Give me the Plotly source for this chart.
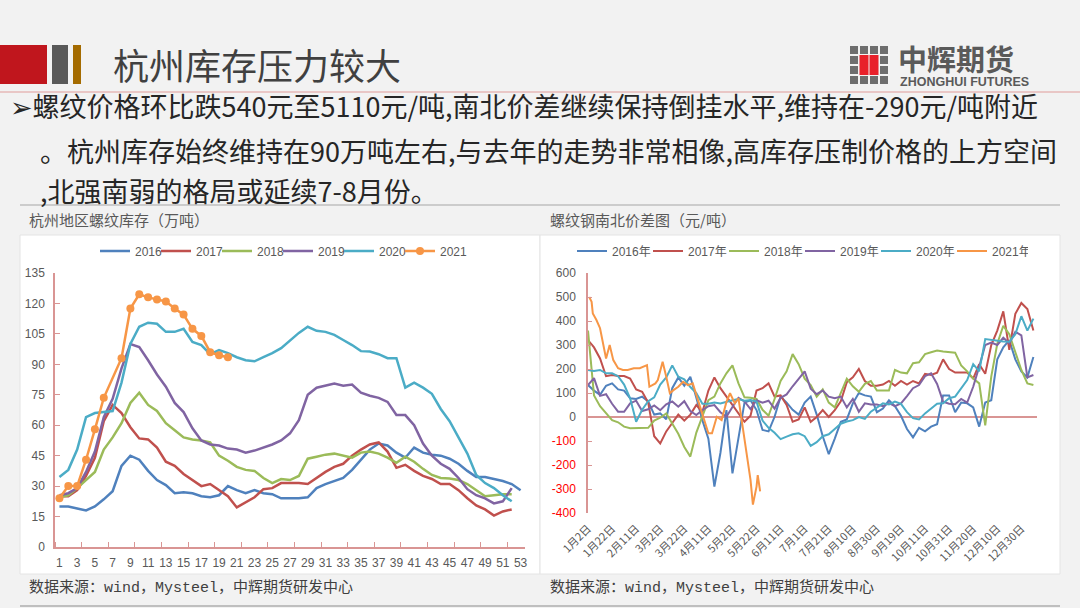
import plotly.graph_objects as go

W, H = 1080, 608
def fx(x): return x / W
def fy(y): return 1 - y / H

# ---------------- left chart data: Hangzhou rebar inventory (10k t) ----------------
WEEKS = list(range(1, 54))
INV_2016 = [20, 20, 19, 18, 20, 23.5, 27.5, 40, 45, 43, 37.5, 33, 30.5, 26.5, 27, 26.5, 25, 24.5, 25.5, 30,
            28, 26.5, 28, 26.5, 26, 24, 24, 24, 24.5, 29, 31, 32.5, 34, 38, 43, 48, 51, 50, 46.5, 44,
            49, 46.5, 45.5, 45, 43.5, 41, 37.5, 34.5, 34.5, 33.5, 32.5, 31, 28]
INV_2017 = [25, 25, 28, 35, 44, 62, 70, 66, 59, 53.5, 53, 49, 42, 40, 36, 33, 30, 31, 28, 25,
            19.5, 22, 24.5, 28.5, 29, 31.5, 31.5, 31.5, 31, 34, 37, 39.5, 41, 45, 48, 50.5, 51.5, 47, 39, 40.5,
            37.5, 35, 33.5, 31, 31, 28, 24, 20.5, 18.5, 15.5, 17.5, 18.5]
INV_2018 = [24.5, 25.5, 29, 33, 37, 48, 54, 61, 71, 76, 70, 67, 61, 57.5, 54, 53, 52.5, 51.5, 45, 42.5,
            39.5, 38, 37.5, 34, 31.5, 33.5, 33, 35, 43.5, 44.5, 45.5, 46, 45, 44, 46.5, 47, 46, 44, 41.5, 44.5,
            42, 38.5, 35.5, 34, 33.8, 33, 31, 28, 25, 25.5, 26, 26]
INV_2019 = [25.5, 26.5, 29, 37, 47, 64, 73, 88, 100, 98.5, 92, 85, 79, 71, 66.5, 58.5, 52.5, 50.5, 50, 48.5,
            48, 46.5, 47.5, 49, 50.5, 52.5, 56, 62.5, 75, 78.5, 79.5, 80.5, 79.5, 80, 76, 74.5, 73.5, 71.5, 65, 65,
            60, 51, 45, 41, 38.5, 34, 28.5, 25.5, 24, 21.5, 22.5, 29]
INV_2020 = [34.5, 38, 48, 64, 66, 66.5, 67, 81, 100, 108.5, 110.5, 110, 106, 106, 107.5, 101, 99.5, 95, 97, 95.5,
            93.5, 92, 91.5, 93.5, 95.5, 98, 102, 105.5, 108.5, 106.5, 106, 104.5, 102, 99.5, 96.5, 96.3, 95, 93, 93, 78.5,
            81, 78.5, 75.5, 68, 62, 54, 46, 35.5, 31.5, 29, 25.5, 22.5]
INV_2021 = [24, 30, 30, 43, 58, 73.5, None, 93, 117.5, 124.5, 123, 122, 121, 117.5, 114.5, 107.5, 104, 96, 94.5, 93.5]

# ---------------- right chart data: rebar south-north spread (yuan/t) ----------------
DAY_IDX = list(range(0, 371, 5))
SPREAD_2016 = [133, 110, 92, 130, 140, 115, 110, 78, 75, 85,
               65, 10, 15, -10, 120, 165, 130, 168, 80, -13,
               -90, -290, -150, 29, -235, -80, 60, 70, 29, -54,
               -60, 1, 85, 60, 30, 10, 60, 85, 10, -80,
               -155, -90, -20, -10, 57, 100, 90, 85, 20, 35,
               70, 45, 5, -50, -85, -45, -60, -40, -30, 90,
               90, 20, 60, 57, 40, -40, 60, 70, 240, 290,
               320, 240, 190, 165, 250]
SPREAD_2017 = [320, 290, 244, 170, 175, 171, 171, 160, 115, 105,
               60, -80, -110, -60, -25, 10, -15, 10, 50, 20,
               110, 165, 120, 85, 55, 18, -20, 5, 110, 120,
               140, 85, 90, 50, -20, -10, 40, -20, 0, 29,
               0, 29, 65, 145, 165, 200, 150, 130, 130, 135,
               150, 130, 150, 135, 150, 140, 180, 175, 185, 240,
               200, 185, 185, 185, 160, 220, 180, 300, 360, 440,
               280, 430, 475, 450, 360]
SPREAD_2018 = [360, 90, 45, 17, -13, -22, -40, -47, -47, -47,
               -45, -15, -3, 15, -30, -70, -125, -165, -65, 0,
               70, 85, 140, 182, 215, 140, 82, 80, 75, 30,
               5, 75, 150, 190, 262, 220, 160, 133, 85, 115,
               60, 40, 100, 160, 128, 105, 138, 150, 110, 109,
               110, 196, 185, 182, 224, 228, 262, 270, 277, 273,
               272, 268, 215, 190, 160, 140, -35, 168, 305, 380,
               345, 270, 196, 140, 133]
SPREAD_2019 = [133, 162, 88, 95, 55, 22, 22, 57, 68, 25,
               32, 48, 28, 53, 65, 43, 66, 25, 8, 29,
               45, 50, 20, 1, 42, 80, 65, 33, 70, 60,
               68, 35, 80, 94, 128, 160, 190, 118, 95, 110,
               85, 78, 85, 40, 75, 22, 57, 52, 52, 45,
               58, 45, 57, 87, 120, 133, 170, 182, 138, 64,
               55, 53, 75, 60, 126, 210, 300, 310, 300, 330,
               307, 355, 340, 165, 175]
SPREAD_2020 = [196, 192, 196, 182, 182, 170, 135, 78, -20, 30,
               66, 82, 135, 165, 215, 168, 157, 125, 100, 55,
               55, 60, 56, 64, 70, 75, 68, 71, 64, -15,
               -45, -66, -92, -82, -72, -68, -80, -120, -105, -80,
               -72, -50, -28, -19, -13, 0, -8, 22, 40, 57,
               52, 64, 55, 20, -5, -10, 15, 35, 55, 57,
               78, 85, 120, 154, 220, 190, 325, 321, 318, 315,
               314, 345, 420, 360, 410]
ORANGE_IDX = [1, 3, 4, 7, 10, 13, 15, 18, 21, 25, 29, 33, 38, 43, 49, 51, 56, 58, 62, 65,
              68, 71, 75, 79, 83, 87, 92, 96, 100, 103, 107, 111, 115, 118, 122, 125, 129, 132, 135, 137,
              140, 141, 143]
SPREAD_2021 = [500, 480, 431, 404, 370, 293, 244, 300, 237, 203, 196, 196, 203, 203, 216, 126, 140, 154, 230, 168,
               99, 112, 126, 147, 133, 140, 57, 1, -68, -68, 1, -13, 63, 99, 57, 78, -54, -151, -262, -365,
               -290, -242, -310]
DATE_TICK_IDX = [0, 20, 40, 60, 80, 100, 120, 140, 160, 180, 200, 220, 240, 260, 280, 300, 320, 340, 360]
DATE_TICK_TEXT = ["1月2日", "1月22日", "2月11日", "3月2日", "3月22日", "4月11日", "5月2日", "5月22日",
                  "6月11日", "7月1日", "7月21日", "8月10日", "8月30日", "9月19日", "10月11日", "10月31日",
                  "11月20日", "12月10日", "12月30日"]
SPREAD_TICKS = [600, 500, 400, 300, 200, 100, 0, -100, -200, -300, -400]

YEARS = ["2016", "2017", "2018", "2019", "2020", "2021"]
COLORS = ["#4F81BD", "#C0504D", "#9BBB59", "#8064A2", "#4BACC6", "#F79646"]
PINK = "#D99594"
GRAY_TXT = "#595959"

fig = go.Figure()

inv_series = [INV_2016, INV_2017, INV_2018, INV_2019, INV_2020]
for yr, vals, col in zip(YEARS[:5], inv_series, COLORS[:5]):
    fig.add_trace(go.Scatter(x=WEEKS[:len(vals)], y=vals, name=yr, mode="lines",
                             line=dict(color=col, width=2.5), xaxis="x", yaxis="y", legend="legend"))
fig.add_trace(go.Scatter(x=WEEKS[:len(INV_2021)], y=INV_2021, name="2021", mode="lines+markers",
                         connectgaps=True, line=dict(color=COLORS[5], width=2.5),
                         marker=dict(color=COLORS[5], size=8), xaxis="x", yaxis="y", legend="legend"))
# empty spacer entry so the last legend label is not clipped
fig.add_trace(go.Scatter(x=[None], y=[None], name=" ", mode="lines", line=dict(color="rgba(0,0,0,0)"),
                         xaxis="x", yaxis="y", legend="legend", hoverinfo="skip"))

spread_series = [SPREAD_2016, SPREAD_2017, SPREAD_2018, SPREAD_2019, SPREAD_2020]
for yr, vals, col in zip(YEARS[:5], spread_series, COLORS[:5]):
    fig.add_trace(go.Scatter(x=DAY_IDX, y=vals, name=yr + "年", mode="lines",
                             line=dict(color=col, width=2), xaxis="x2", yaxis="y2", legend="legend2"))
fig.add_trace(go.Scatter(x=ORANGE_IDX, y=SPREAD_2021, name="2021年", mode="lines",
                         line=dict(color=COLORS[5], width=2), xaxis="x2", yaxis="y2", legend="legend2"))

spread_ticktext = [(f"<span style='color:#FF0000'>{v}</span>" if v < 0 else str(v)) for v in SPREAD_TICKS]

shapes = []
def rect(x0, y0, x1, y1, fill, line=None, lw=0):
    shapes.append(dict(type="rect", xref="paper", yref="paper", x0=fx(x0), x1=fx(x1), y0=fy(y1), y1=fy(y0),
                       fillcolor=fill, line=dict(color=line or fill, width=lw), layer="below"))
def hline(x0, x1, y, color, w):
    shapes.append(dict(type="line", xref="paper", yref="paper", x0=fx(x0), x1=fx(x1), y0=fy(y), y1=fy(y),
                       line=dict(color=color, width=w), layer="below"))

# header blocks
rect(0, 45, 47, 84, "#C0161D")
rect(52, 45, 68, 84, "#595959")
rect(73, 45, 81, 84, "#A46B00")
hline(0, 1080, 92, "#E6B8B7", 1.5)
hline(20, 1060, 205, "#BFBFBF", 1.5)
# chart panels
rect(20, 235, 540, 574, "#FFFFFF", "#E4E4E4", 1)
rect(540, 235, 1060, 574, "#FFFFFF", "#E4E4E4", 1)
hline(20, 1060, 606, "#BFBFBF", 2)
# logo icon
for r in range(4):
    for c in range(4):
        x0 = 850 + c * 10
        y0 = 46 + r * 10
        rect(x0, y0, x0 + 8, y0 + 8, "#6E6E6E")
for c in (1, 2):
    x0 = 850 + c * 10
    rect(x0 - 0.5, 55, x0 + 8.5, 75, "#E8202A")

CJK = "Noto Sans CJK SC, DejaVu Sans, sans-serif"
ann = []
def text(x, y, s, size, color, family=CJK, anchor="left"):
    ann.append(dict(xref="paper", yref="paper", x=fx(x), y=fy(y), text=s, showarrow=False,
                    xanchor=anchor, yanchor="middle", font=dict(size=size, color=color, family=family)))

text(111, 64, "杭州库存压力较大", 36, "#404040")
text(896, 58, "<b>中辉期货</b>", 29, "#5A5A5A")
text(898, 82.5, "<b>ZHONGHUI FUTURES</b>", 12.5, "#5A5A5A", "Liberation Sans, Arial, sans-serif")
text(8, 106, "➢螺纹价格环比跌540元至5110元/吨,南北价差继续保持倒挂水平,维持在-290元/吨附近", 27, "#262626")
text(38, 151, "。杭州库存始终维持在90万吨左右,与去年的走势非常相像,高库存压制价格的上方空间", 27, "#262626")
text(38, 190, ",北强南弱的格局或延续7-8月份。", 27, "#262626")
text(27, 219, "杭州地区螺纹库存（万吨）", 15, GRAY_TXT)
text(548, 219, "螺纹钢南北价差图（元/吨）", 15, GRAY_TXT)
text(27, 588, "数据来源：wind，Mysteel，中辉期货研发中心", 15, "#404040", "Liberation Mono, Noto Sans CJK SC, monospace")
text(548, 588, "数据来源：wind，Mysteel，中辉期货研发中心", 15, "#404040", "Liberation Mono, Noto Sans CJK SC, monospace")

TICKFONT = dict(family="Liberation Sans, Arial, Noto Sans CJK SC, sans-serif", size=12, color=GRAY_TXT)

fig.update_layout(
    width=W, height=H, autosize=False, margin=dict(l=0, r=0, t=0, b=0, autoexpand=False),
    paper_bgcolor="#F2F2F2", plot_bgcolor="rgba(0,0,0,0)",
    font=dict(family="Liberation Sans, Noto Sans CJK SC, sans-serif", size=12, color=GRAY_TXT),
    shapes=shapes, annotations=ann,
    xaxis=dict(domain=[fx(55), fx(525)], range=[0.5, 53.5], anchor="y", tickmode="linear", tick0=1, dtick=2,
               tickangle=0, ticks="", showline=True, linecolor=PINK, linewidth=1.5, showgrid=False,
               zeroline=False, tickfont=TICKFONT, ticklabelstandoff=4, automargin=False,
               minor=dict(tick0=0.5, dtick=3, ticks="inside", ticklen=5, tickcolor=PINK, tickwidth=1.2,
                          showgrid=False)),
    yaxis=dict(domain=[fy(547), fy(273)], range=[0, 135], anchor="x", tickmode="linear", tick0=0, dtick=15,
               ticks="inside", ticklen=5, tickcolor=PINK, tickwidth=1.2, showline=True, linecolor=PINK,
               linewidth=1.5, showgrid=False, zeroline=False, tickfont=TICKFONT, ticklabelstandoff=6,
               automargin=False),
    xaxis2=dict(domain=[fx(588), fx(1037)], range=[0, 373], anchor="y2", tickmode="array",
                tickvals=DATE_TICK_IDX, ticktext=DATE_TICK_TEXT, tickangle=-45, ticks="", showline=False,
                showgrid=False, zeroline=False, ticklabelstandoff=6, automargin=False,
                tickfont=dict(family="Noto Sans CJK SC, sans-serif", size=11, color=GRAY_TXT)),
    yaxis2=dict(domain=[fy(513), fy(273)], range=[-400, 600], anchor="x2", tickmode="array",
                tickvals=SPREAD_TICKS, ticktext=spread_ticktext, ticks="inside", ticklen=4, tickcolor=PINK,
                showline=True, linecolor=PINK, linewidth=1.5, showgrid=False, zeroline=True,
                zerolinecolor=PINK, zerolinewidth=1.5, tickfont=TICKFONT, ticklabelstandoff=8,
                automargin=False),
    legend=dict(orientation="h", x=fx(95), y=fy(251), xanchor="left", yanchor="middle",
                bgcolor="rgba(0,0,0,0)", font=dict(size=12, color=GRAY_TXT), entrywidth=16,
                entrywidthmode="pixels", itemwidth=30, itemclick=False),
    legend2=dict(orientation="h", x=fx(572), y=fy(251), xanchor="left", yanchor="middle",
                 bgcolor="rgba(0,0,0,0)", font=dict(size=12, color=GRAY_TXT), entrywidth=31,
                 entrywidthmode="pixels", itemwidth=30, itemclick=False),
)

fig.write_html("out.html", config={"displayModeBar": False},
               post_script="document.body.style.margin='0';")
